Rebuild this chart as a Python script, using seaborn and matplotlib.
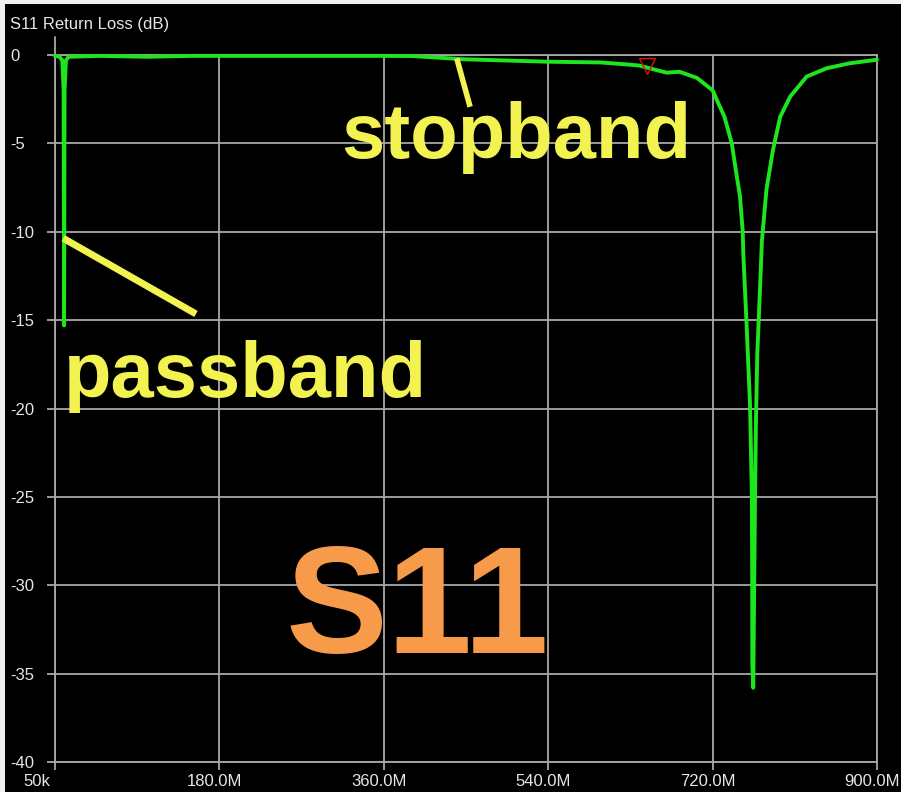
import matplotlib
matplotlib.use("Agg")
import matplotlib.pyplot as plt
import matplotlib.transforms as mtransforms
from matplotlib.patches import Rectangle
import seaborn as sns
import pandas as pd

# S11 trace (MHz, dB)
freq_mhz = [0.05, 5, 8, 9.5, 10.0, 10.5, 12, 15, 50, 100, 150, 200, 300, 360,
            392, 447, 539, 597, 630, 640, 662, 670, 684, 703, 720, 733, 741,
            746, 750, 753, 753.6, 757, 761, 763, 763.4, 763.5, 764.5, 766.4,
            767.5, 769, 771, 774, 779, 786, 794, 805, 823, 845, 870, 898, 900]
s11_db = [-0.05, -0.1, -0.3, -2.0, -15.3, -2.0, -0.3, -0.1, -0.05, -0.1, -0.05,
          -0.05, -0.05, -0.05, -0.06, -0.24, -0.38, -0.42, -0.55, -0.6, -0.9,
          -1.0, -0.95, -1.3, -2.0, -3.5, -5.0, -6.7, -8.0, -10.0, -11.2, -15.0,
          -19.8, -24.9, -30.0, -34.5, -35.8, -25.3, -20.6, -16.8, -14.4, -10.5,
          -7.6, -5.4, -3.5, -2.35, -1.22, -0.75, -0.47, -0.28, -0.25]

x_ticks = [0.05, 180, 360, 540, 720, 900]
x_labels = ["50k", "180.0M", "360.0M", "540.0M", "720.0M", "900.0M"]
y_ticks = [0, -5, -10, -15, -20, -25, -30, -35, -40]
y_labels = ["0", "-5", "-10", "-15", "-20", "-25", "-30", "-35", "-40"]

marker_freq = 648.5
marker_db = -0.65

GRID = "#a8a8a8"
TXT = "#e6e6e6"
YELLOW = "#f2f250"
ORANGE = "#f79a4a"
GREEN = "#1ee61e"

sns.set_style("dark", {"axes.facecolor": "black"})
plt.rcParams["font.family"] = ["Liberation Sans", "DejaVu Sans"]

fig = plt.figure(figsize=(9.01, 7.92), dpi=100, facecolor="#f0f0f0")
fig.add_artist(Rectangle((5 / 901, 0), 1, 1 - 4 / 792, transform=fig.transFigure,
                         facecolor="black", edgecolor="none", zorder=-5))

ax = fig.add_axes([55 / 901, 1 - 762 / 792, 822 / 901, 707 / 792])
ax.set_facecolor("black")

df = pd.DataFrame({"freq": freq_mhz, "db": s11_db})
sns.lineplot(data=df, x="freq", y="db", ax=ax, color=GREEN, lw=2.8, zorder=3)
ax.lines[0].set_clip_on(False)

# marker on the trace
ax.plot([marker_freq], [marker_db], marker="v", ms=12, mfc="none", mec="#e01010",
        mew=1.0, zorder=4, clip_on=False)

ax.set_xlim(0.05, 900)
ax.set_ylim(-40, 0)
ax.set_xticks(x_ticks)
ax.set_xticklabels(x_labels)
ax.set_yticks(y_ticks)
ax.set_yticklabels(y_labels)
ax.set_xlabel("")
ax.set_ylabel("")

ax.grid(True, color=GRID, lw=1.3)
ax.tick_params(axis="both", length=5.8, width=1.3, color=GRID, labelcolor=TXT,
               labelsize=12, bottom=True, left=True)
ax.tick_params(axis="x", pad=2.5)
ax.tick_params(axis="y", pad=26.6)
for lbl in ax.get_yticklabels():
    lbl.set_ha("left")
for lbl, dx in zip(ax.get_xticklabels(), [-18.6, -5, -5, -5, -5, -5]):
    lbl.set_transform(lbl.get_transform() +
                      mtransforms.ScaledTranslation(dx / 100, 0, fig.dpi_scale_trans))
for sp in ax.spines.values():
    sp.set_color(GRID)
    sp.set_linewidth(1.3)
    sp.set_visible(True)

# left axis line runs a bit above the top grid line
ax.plot([0, 0], [1, 1 + 18 / 707], transform=ax.transAxes, color=GRID, lw=1.3,
        clip_on=False)

# annotations
ax.plot([9.1, 154.4], [-10.37, -14.65], color=YELLOW, lw=5, zorder=5,
        solid_capstyle="butt")
ax.plot([439.9, 454.5], [-0.19, -2.93], color=YELLOW, lw=4, zorder=5,
        solid_capstyle="butt", clip_on=False)
ax.text(313, -5.83, "stopband", fontsize=56, fontweight="bold", color=YELLOW,
        ha="left", va="baseline", zorder=5)
ax.text(9.5, -19.33, "passband", fontsize=56, fontweight="bold", color=YELLOW,
        ha="left", va="baseline", zorder=5)
ax.text(253, -33.83, "S11", fontsize=110, fontweight="bold", color=ORANGE,
        ha="left", va="baseline", zorder=5)

fig.text(10 / 901, 1 - 29.5 / 792, "S11 Return Loss (dB)", fontsize=12, color=TXT,
         ha="left", va="baseline")

fig.savefig("out.png", dpi=100, facecolor=fig.get_facecolor())
